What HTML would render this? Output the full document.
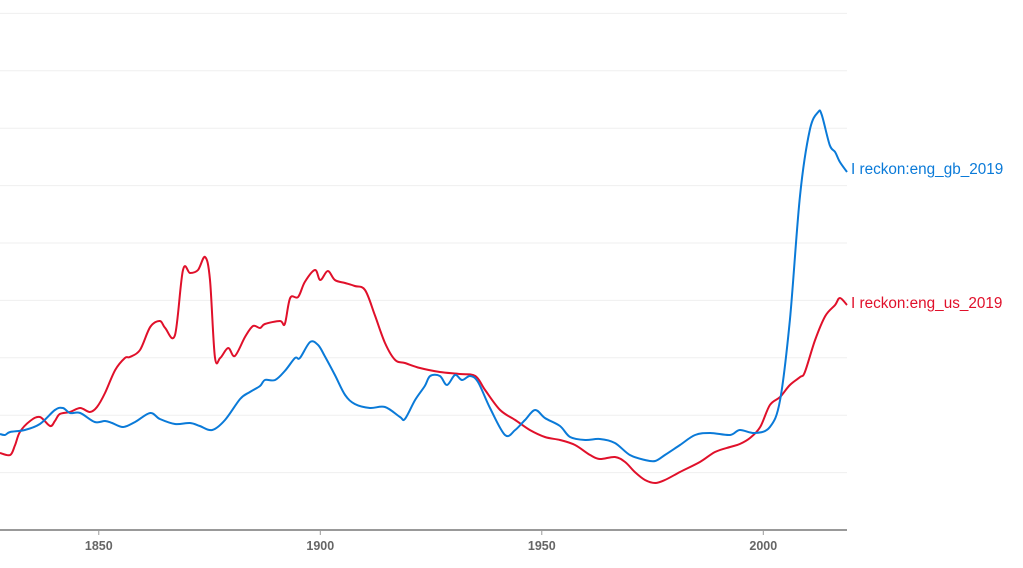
<!DOCTYPE html>
<html><head><meta charset="utf-8">
<style>
html,body{margin:0;padding:0;background:#fff;}
svg{display:block;font-family:"Liberation Sans",sans-serif;}
</style></head>
<body>
<svg id="chart" width="1023" height="568" viewBox="0 0 1023 568" xmlns="http://www.w3.org/2000/svg">
<g id="grid"></g>
<g id="axis"></g>
<g id="series"></g>
<g id="labels"></g>
</svg>
<script>
const xTicks = [1850, 1900, 1950, 2000];
const gridValues = [57.4, 114.8, 172.2, 229.6, 287, 344.4, 401.8, 459.2, 516.6];
const usYears = [1827.7,1830,1831.1,1832.2,1834.5,1836.7,1839,1840.1,1841.2,1843.5,1845.8,1848,1849.6,1851.4,1853.7,1855.9,1857,1859.3,1861.6,1863.8,1865,1867.2,1869,1870.6,1872.4,1874,1875.1,1876.2,1877.4,1879.2,1880.7,1883,1884.8,1886.4,1887.5,1890.9,1892,1893.2,1895,1896.5,1898.8,1900,1901.7,1903.3,1905.6,1907.8,1910.1,1912.3,1914.6,1916.9,1919.1,1922.5,1927,1931.5,1935,1937.2,1940.6,1944,1947.3,1950.7,1954.1,1957.5,1960.9,1963.1,1966.5,1968.8,1971,1973.3,1975.6,1977.8,1981.2,1985.7,1989.1,1992.5,1994.7,1997,1999.3,2001.5,2003.8,2006,2008.3,2009.4,2011.7,2014,2016.2,2017.3,2018.9];
const usValues = [77,75,85,98,109,113,104,109,116,118,122,118,123,137,160,172,173,180,203,209,202,195,260,257,260,273,250,173,172,182,174,193,204,202,206,209,206,232,233,248,260,250,259,250,247,244,240,215,187,170,167,162,158,156,154,140,120,110,100,93,90,85,75,71,73,68,58,50,47,50,58,68,78,83,86,92,103,125,133,145,153,158,190,214,225,232,225];
const gbYears = [1827.7,1828.8,1830,1833.3,1836.7,1840.1,1841.9,1843.5,1845.8,1849.1,1851.4,1853,1855.5,1858.2,1861.6,1863.8,1867.2,1870.6,1872.8,1875.6,1878.5,1881.9,1884.1,1886.4,1887.5,1889.8,1892,1894.3,1895.4,1897.7,1899.5,1901,1903.3,1905.6,1907.8,1911.2,1914.6,1918,1919.1,1921.4,1923.6,1924.8,1927,1928.6,1930.4,1932,1933.8,1935.6,1938.3,1941.7,1944,1946.2,1948.5,1950.7,1954.1,1956.4,1959.8,1963.1,1966.5,1969.9,1973.3,1975.6,1977.8,1981.2,1984.6,1988,1992.5,1994.7,1998.1,2001.5,2003.8,2006,2008.3,2010.5,2012.4,2013.2,2015,2016.2,2017.3,2018.9];
const gbValues = [96,95,98,100,106,120,122,117,117,108,109,107,103,108,117,111,106,107,104,100,110,131,138,144,150,150,159,172,172,188,185,174,155,135,126,122,123,113,111,130,144,154,154,145,155,150,154,148,122,95,100,110,120,112,104,93,90,91,87,75,70,69,75,85,95,97,95,100,97,103,130,210,335,400,418,415,385,378,368,358];

const NS = "http://www.w3.org/2000/svg";
const X0 = 1827.7, PXY = 4.43, BASE = 530;
function xScale(yr){ return (yr - X0) * PXY; }
function yScale(v){ return BASE - v; }
function mk(tag, attrs, parent){ const e = document.createElementNS(NS, tag); for (const k in attrs) e.setAttribute(k, attrs[k]); parent.appendChild(e); return e; }

const grid = document.getElementById('grid');
gridValues.forEach(v => {
  const l = mk('line', {x1:0, x2:847, y1:yScale(v), y2:yScale(v), stroke:'#efefef', 'stroke-width':1}, grid);
  
  
});
const axis = document.getElementById('axis');
const al = mk('line', {x1:0, x2:847, y1:BASE, y2:BASE, stroke:'#999', 'stroke-width':2}, axis);


xTicks.forEach(t => {
  const x = xScale(t);
  const tk = mk('line', {x1:x, x2:x, y1:BASE, y2:BASE+5, stroke:'#999', 'stroke-width':1}, axis);
  
  
  const tx = mk('text', {x:x, y:550, 'text-anchor':'middle', 'font-size':12.5, 'font-weight':'bold', fill:'#666'}, axis);
  tx.textContent = t;
  
  
});

function path(years, vals){
  const p = years.map((y,i)=>[xScale(y), yScale(vals[i])]);
  let d = 'M' + p[0][0].toFixed(1) + ',' + p[0][1].toFixed(1);
  for (let i=0;i<p.length-1;i++){
    const p0 = p[Math.max(0,i-1)], p1 = p[i], p2 = p[i+1], p3 = p[Math.min(p.length-1,i+2)];
    const c1x = p1[0]+(p2[0]-p0[0])/6, c1y = p1[1]+(p2[1]-p0[1])/6;
    const c2x = p2[0]-(p3[0]-p1[0])/6, c2y = p2[1]-(p3[1]-p1[1])/6;
    d += ' C'+c1x.toFixed(1)+','+c1y.toFixed(1)+' '+c2x.toFixed(1)+','+c2y.toFixed(1)+' '+p2[0].toFixed(1)+','+p2[1].toFixed(1);
  }
  return d;
}
const series = document.getElementById('series');
const usLine = mk('path', {d:path(usYears, usValues), fill:'none', stroke:'#e0102a', 'stroke-width':2, 'stroke-linejoin':'round'}, series);


const gbLine = mk('path', {d:path(gbYears, gbValues), fill:'none', stroke:'#0a7ad8', 'stroke-width':2, 'stroke-linejoin':'round'}, series);



const labels = document.getElementById('labels');
const gbL = mk('text', {x:851, y:yScale(gbValues[gbValues.length-1])+2, 'font-size':15.3, fill:'#0a7ad8'}, labels);
gbL.textContent = 'I reckon:eng_gb_2019';


const usL = mk('text', {x:851, y:yScale(usValues[usValues.length-1])+3, 'font-size':15.3, fill:'#e0102a'}, labels);
usL.textContent = 'I reckon:eng_us_2019';


</script>
</body></html>
